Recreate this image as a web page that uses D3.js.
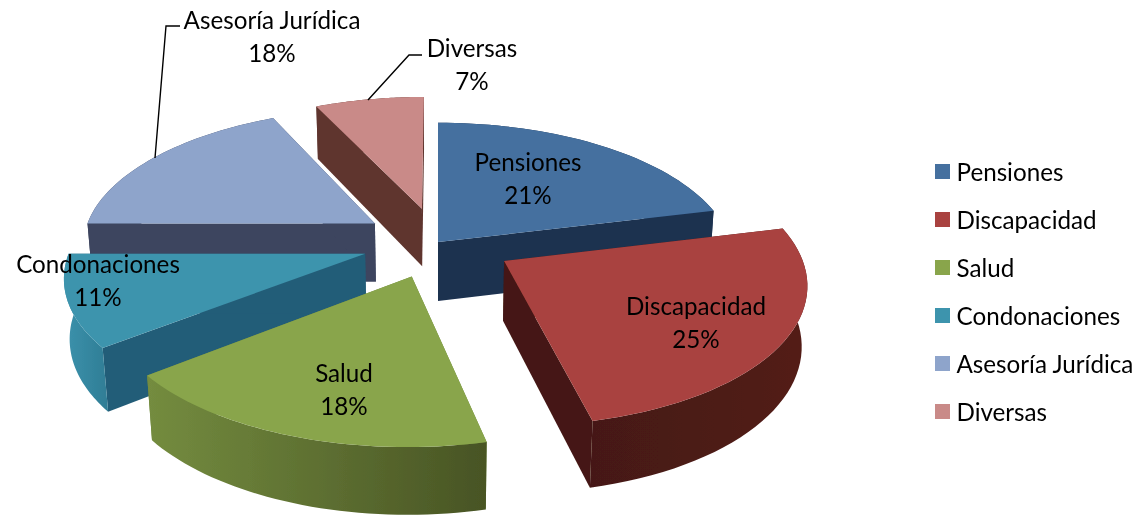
<!DOCTYPE html>
<html>
<head>
<meta charset="utf-8">
<script src="https://cdn.jsdelivr.net/npm/d3@7"></script>
<style>
  body { margin: 0; background: #fff; }
  text { font-family: Lato, "Open Sans", sans-serif; fill: #000; }
</style>
</head>
<body>
<div id="chart"></div>
<script>
var categories = ["Pensiones", "Discapacidad", "Salud", "Condonaciones", "Asesoría Jurídica", "Diversas"];
var percents = [21.2, 25.2, 18, 10.6, 18, 7];

var width = 1144, height = 516;

// how far each slice is pulled out of the pie (share of the radius)
var explode = [0, 0.26, 0.26, 0.26, 0.26, 0.26];
var topColors = ["#44709f", "#a94341", "#89a54c", "#3e94ad", "#8ea4cb", "#c98a88"];
var wallColors = ["#1b3150", "#451914", "#6f8a3c", "#245d78", "#3c445e", "#5f352f"];
var rimColors = [
  ["#1b3150", "#1b3150"],
  ["#451914", "#531c18"],
  ["#748c3f", "#485424"],
  ["#3c92ac", "#2f7d95"],
  ["#3c445e", "#3c445e"],
  ["#5f352f", "#5f352f"]
];
var labelPos = [[528, 163], [696, 307], [344, 374], [98, 265], [272, 21], [472, 49]];
var drawOrder = [5, 4, 0, 3, 2, 1];
var leaders = [
  [[155, 158], [166, 26], [180, 26]],
  [[368, 100], [409, 55], [422, 55]]
];

var cx = 438, cy = 242, rx = 293, ry = 136, persp = 0.14, depth = 60, zShrink = 0.015;

var svg = d3.select("#chart").append("svg")
  .attr("width", width)
  .attr("height", height);

var defs = svg.append("defs");
defs.append("filter").attr("id", "soft")
  .attr("x", "-5%").attr("y", "-5%").attr("width", "110%").attr("height", "110%")
  .append("feGaussianBlur").attr("stdDeviation", 0.6);
defs.append("filter").attr("id", "softText")
  .attr("x", "-5%").attr("y", "-20%").attr("width", "110%").attr("height", "140%")
  .append("feGaussianBlur").attr("stdDeviation", 0.3);

var pie = d3.pie().sort(null).value(function(d) { return d; });
var arcs = pie(percents);

var angleSteps = d3.scaleLinear().domain([0, 40]);

function project(u, v, z) {
  var w = 1 / (1 - persp * v + zShrink * z);
  return [cx + rx * u * w, cy + ry * v * w + depth * z * w];
}

var line = d3.line();

function sliceParts(d, i) {
  var mid = (d.startAngle + d.endAngle) / 2;
  var ou = explode[i] * Math.sin(mid), ov = -explode[i] * Math.cos(mid);
  angleSteps.range([d.startAngle, d.endAngle]);
  var ring = d3.range(41).map(function(k) {
    var a = angleSteps(k);
    return [ou + Math.sin(a), ov - Math.cos(a)];
  });
  function at(p, z) { return project(p[0], p[1], z); }
  var top = ring.map(function(p) { return at(p, 0); });
  var bottom = ring.map(function(p) { return at(p, 1); });
  var apex = [ou, ov];
  return {
    face: [at(apex, 0)].concat(top),
    rim: top.concat(bottom.slice().reverse()),
    startWall: [at(apex, 0), top[0], bottom[0], at(apex, 1)],
    endWall: [at(apex, 0), top[40], bottom[40], at(apex, 1)]
  };
}

rimColors.forEach(function(c, i) {
  var g = defs.append("linearGradient").attr("id", "rim" + i);
  g.append("stop").attr("offset", "0%").attr("stop-color", c[0]);
  g.append("stop").attr("offset", "100%").attr("stop-color", c[1]);
});

var pieG = svg.append("g").attr("filter", "url(#soft)");

drawOrder.forEach(function(i) {
  var parts = sliceParts(arcs[i], i);
  var g = pieG.append("g").attr("class", "slice");
  g.append("path").attr("d", line(parts.startWall) + "Z").attr("fill", wallColors[i]);
  g.append("path").attr("d", line(parts.endWall) + "Z").attr("fill", wallColors[i]);
  g.append("path").attr("d", line(parts.rim) + "Z").attr("fill", "url(#rim" + i + ")");
  g.append("path").attr("d", line(parts.face) + "Z").attr("fill", topColors[i]);
});

svg.selectAll(".leader")
  .data(leaders)
  .enter()
  .append("path")
  .attr("class", "leader")
  .attr("d", function(d) { return line(d); })
  .attr("fill", "none")
  .attr("stroke", "#000")
  .attr("stroke-width", 1.4);

var textG = svg.append("g").attr("filter", "url(#softText)");

var labels = textG.selectAll(".label")
  .data(categories)
  .enter()
  .append("text")
  .attr("class", "label")
  .attr("text-anchor", "middle")
  .attr("font-size", 24.2)
  .attr("x", function(d, i) { return labelPos[i][0]; })
  .attr("y", function(d, i) { return labelPos[i][1]; });

labels.append("tspan").attr("dy", "0.35em").text(function(d) { return d; });
labels.append("tspan")
  .attr("x", function(d, i) { return labelPos[i][0]; })
  .attr("dy", 33)
  .text(function(d, i) { return Math.round(percents[i]) + "%"; });

var legendY = d3.scalePoint().domain(categories).range([173, 413]);

var legend = textG.selectAll(".legend")
  .data(categories)
  .enter()
  .append("g")
  .attr("class", "legend")
  .attr("transform", function(d) { return "translate(935," + legendY(d) + ")"; });

legend.append("rect")
  .attr("y", -9)
  .attr("width", 15)
  .attr("height", 15)
  .attr("fill", function(d, i) { return topColors[i]; });

legend.append("text")
  .attr("x", 21.5)
  .attr("dy", "0.35em")
  .attr("font-size", 24.2)
  .text(function(d) { return d; });
</script>
</body>
</html>
